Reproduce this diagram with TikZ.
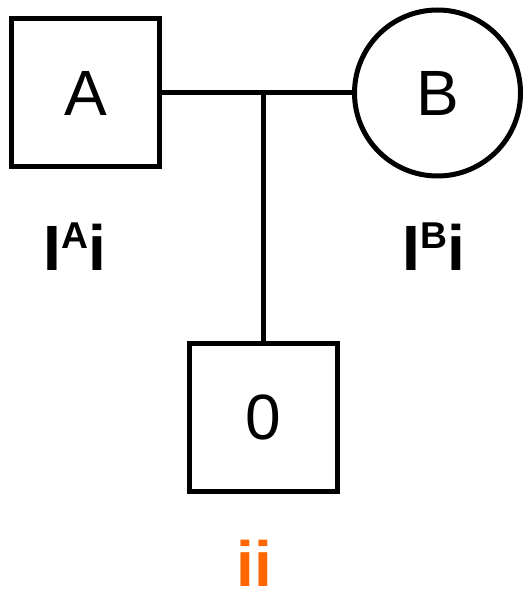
\documentclass[tikz,border=0pt]{standalone}
\usepackage{fontspec}
\setmainfont{Liberation Sans}
\usepackage{xcolor}
\usetikzlibrary{positioning, calc}
\definecolor{genorange}{HTML}{FF6600}
\tikzset{
    maschio/.style={draw, line width=3.75pt, minimum size=111pt, inner sep=0pt, font=\fontsize{48}{48}\selectfont},
    femmina/.style={draw, circle, line width=3.75pt, minimum size=124.5pt, inner sep=0pt, font=\fontsize{48}{48}\selectfont},
    genotipo/.style={anchor=base, inner sep=0pt, font=\fontsize{48}{48}\selectfont\bfseries},
}
\newcommand{\apice}[1]{\raisebox{16.3pt}{\fontsize{28}{28}\selectfont\textbf{#1}}}

\begin{document}
\begin{tikzpicture}[x=0.75pt, y=-0.75pt]
    \useasboundingbox (0,0) rectangle (529,591);

    % Genitori
    \node[maschio] (A) at (85.5,93) {A};
    \node[femmina] (B) at (437.5,93) {B};
    \draw[line width=3.75pt] (A.east) -- (B.west);

    % Figlio
    \node[maschio] (figlio) at (263,417.5) {0};
    \coordinate (nodo) at (figlio |- A);
    \draw[line width=3.75pt] (nodo) -- (figlio.north);

    % Genotipi
    \node[genotipo] (genA) at (75,270.5) {I\apice{A}i};
    \node[genotipo] (genB) at (434,270.5) {I\apice{B}i};
    \node[genotipo, text=genorange] (genfiglio) at (254,586) {ii};
\end{tikzpicture}
\end{document}
